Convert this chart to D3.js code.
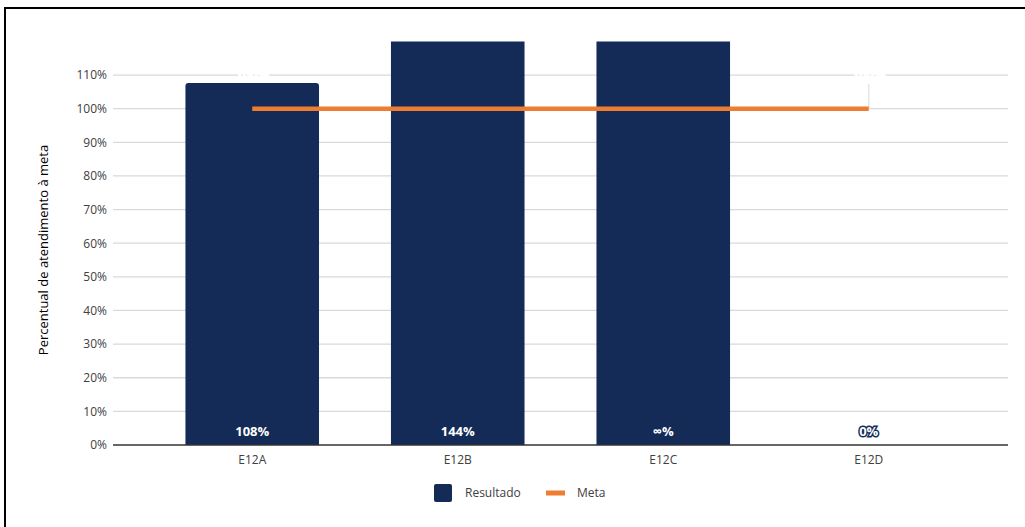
<!DOCTYPE html>
<html><head><meta charset="utf-8">
<script src="https://cdn.jsdelivr.net/npm/d3@7"></script>
<style>body{margin:0;background:#fff;}svg{display:block;font-family:"Open Sans","Noto Sans",sans-serif;}</style>
</head><body>
<svg id="c" width="1025" height="527"></svg>
<script>
const categories = ["E12A", "E12B", "E12C", "E12D"];
const resultado = [107.6, 144, Infinity, 0];
const meta = [100, 100, 100, 100];
const yTicks = [0, 10, 20, 30, 40, 50, 60, 70, 80, 90, 100, 110];
const yMax = 120;

const svg = d3.select("#c");
const navy = "#132B56", orange = "#ED7D31";

// frame
svg.append("rect").attr("x", 5).attr("y", 8).attr("width", 1200).attr("height", 700)
  .attr("fill", "none").attr("stroke", "#000").attr("stroke-width", 2);

const x = d3.scaleBand().domain(categories).range([113, 1008]).paddingInner(0.35).paddingOuter(0.3525);
const y = d3.scaleLinear().domain([0, yMax]).range([445, 41.4]).clamp(true);

// grid
svg.append("g").selectAll("line").data(yTicks.filter(d => d > 0)).join("line")
  .attr("x1", 113).attr("x2", 1008).attr("y1", d => y(d)).attr("y2", d => y(d))
  .attr("stroke", "#d9d9d9").attr("stroke-width", 1.3);

// y axis labels
const yAxis = d3.axisLeft(y).tickValues(yTicks).tickFormat(d => d + "%").tickSize(0).tickPadding(6);
const ya = svg.append("g").attr("transform", "translate(113,0)").call(yAxis);
ya.select(".domain").remove();
ya.selectAll("text").attr("font-size", 12).attr("fill", "#404040").attr("font-family", "'Open Sans',sans-serif");

svg.append("text").attr("transform", "translate(48,250) rotate(-90)").attr("text-anchor", "middle")
  .attr("font-size", 13).attr("fill", "#000").text("Percentual de atendimento à meta");

// clip
svg.append("clipPath").attr("id", "clip").append("rect").attr("x", 100).attr("y", y(yMax)).attr("width", 950).attr("height", 445 - y(yMax));

// bars
const r = 3;
svg.append("g").attr("clip-path", "url(#clip)").selectAll("path").data(resultado.map((v, i) => ({v, c: categories[i]})))
  .join("path")
  .attr("d", d => {
    const x0 = x(d.c), w = x.bandwidth(), b = y(0);
    if (d.v <= 0) return "";
    const over = d.v > yMax;
    const t = over ? y(yMax) - 10 : y(d.v);
    return `M${x0},${b}V${t + r}Q${x0},${t} ${x0 + r},${t}H${x0 + w - r}Q${x0 + w},${t} ${x0 + w},${t + r}V${b}Z`;
  })
  .attr("fill", navy);

// x axis
const xa = svg.append("g").attr("transform", "translate(0,445)").call(d3.axisBottom(x).tickSize(0).tickPadding(10));
xa.select(".domain").attr("stroke", "#333").attr("stroke-width", 1.5).attr("d", "M113,0H1008");
xa.selectAll("text").attr("font-size", 12).attr("fill", "#404040").attr("font-family", "'Open Sans',sans-serif");

// meta line
const cx = c => x(c) + x.bandwidth() / 2;
const lastC = categories[categories.length - 1];
svg.append("line").attr("x1", cx(lastC)).attr("x2", cx(lastC)).attr("y1", 84).attr("y2", y(meta[3]))
  .attr("stroke", "#e6e6e6").attr("stroke-width", 1.5);
svg.append("path").datum(meta.map((v, i) => [cx(categories[i]), y(v)]))
  .attr("d", d3.line()).attr("fill", "none").attr("stroke", orange).attr("stroke-width", 4.5);

// meta labels (white)
svg.append("g").selectAll("text").data([0, 3]).join("text")
  .attr("x", i => cx(categories[i])).attr("y", y(110) + 4).attr("text-anchor", "middle")
  .attr("font-size", 13).attr("font-weight", "bold").attr("fill", "#fff")
  .attr("stroke", "#fff").attr("stroke-width", 1).attr("paint-order", "stroke")
  .text(i => meta[i] + "%");

// result labels
const fmt = v => (isFinite(v) ? Math.round(v) : "∞") + "%";
svg.append("g").selectAll("text").data(resultado.map((v, i) => ({v, c: categories[i]}))).join("text")
  .attr("x", d => cx(d.c)).attr("y", 436).attr("text-anchor", "middle")
  .attr("font-size", 13).attr("font-weight", "bold").attr("fill", "#fff")
  .attr("stroke", d => d.v === 0 ? navy : "none").attr("stroke-width", 3).attr("paint-order", "stroke")
  .text(d => fmt(d.v));

// legend
const lg = svg.append("g");
lg.append("rect").attr("x", 434).attr("y", 484).attr("width", 18).attr("height", 18).attr("rx", 2).attr("fill", navy);
lg.append("text").attr("x", 465).attr("y", 497).attr("font-size", 12).attr("fill", "#404040").text("Resultado");
lg.append("rect").attr("x", 546).attr("y", 490.5).attr("width", 19).attr("height", 5).attr("fill", orange);
lg.append("text").attr("x", 577).attr("y", 497).attr("font-size", 12).attr("fill", "#404040").text("Meta");
</script>
</body></html>
